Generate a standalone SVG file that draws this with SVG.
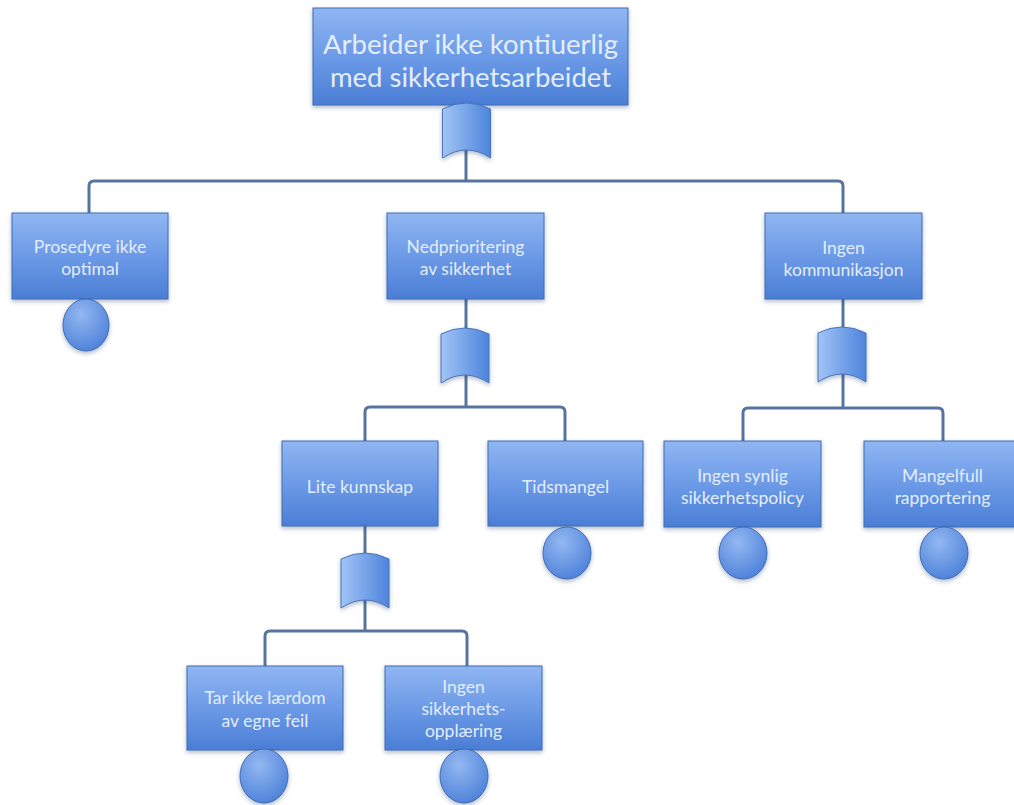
<svg xmlns="http://www.w3.org/2000/svg" width="1014" height="805" viewBox="0 0 1014 805">
  <defs>
    <linearGradient id="boxFill" x1="0" y1="0" x2="0" y2="1">
      <stop offset="0" stop-color="#90b6f2"/>
      <stop offset="0.5" stop-color="#6c9ae7"/>
      <stop offset="1" stop-color="#4a7ed5"/>
    </linearGradient>
    <linearGradient id="gateFill" x1="0" y1="0" x2="1" y2="0">
      <stop offset="0" stop-color="#a2c4f6"/>
      <stop offset="1" stop-color="#4d84dc"/>
    </linearGradient>
    <radialGradient id="eventFill" cx="0.4" cy="0.3" r="0.75">
      <stop offset="0" stop-color="#93b8f2"/>
      <stop offset="1" stop-color="#4c80d8"/>
    </radialGradient>
    <filter id="shadow" x="-10%" y="-10%" width="120%" height="130%">
      <feDropShadow dx="0" dy="2" stdDeviation="2" flood-color="#1a3560" flood-opacity="0.35"/>
    </filter>
    <path id="orGate" d="M-24,6 Q0,-6 24,6 L24,55 Q0,39 -24,55 Z"/>
  </defs>
  <style>
    .box { fill: url(#boxFill); stroke: #3e6cb4; stroke-width: 1; filter: url(#shadow); }
    .gate { fill: url(#gateFill); stroke: #4a74b8; stroke-width: 1; filter: url(#shadow); }
    .event { fill: url(#eventFill); stroke: #3e6cb4; stroke-width: 1; filter: url(#shadow); }
    .link { fill: none; stroke: #56749f; stroke-width: 3; }
    .lbl { font-family: Lato, "Open Sans", sans-serif; fill: #e3edfc; text-anchor: middle; font-size: 17.5px; }
    .big { font-size: 27.5px; }
  </style>

  <!-- connectors -->
  <g id="connectors">
    <path class="link" d="M466,105 V181"/>
    <path class="link" d="M89,213 V186 Q89,181 94,181 H838 Q843,181 843,186 V213"/>
    <path class="link" d="M466,299 V407"/>
    <path class="link" d="M365,441 V412 Q365,407 370,407 H560 Q565,407 565,412 V441"/>
    <path class="link" d="M843,299 V408"/>
    <path class="link" d="M743,441 V413 Q743,408 748,408 H938 Q943,408 943,413 V441"/>
    <path class="link" d="M365,526 V631"/>
    <path class="link" d="M265,666 V636 Q265,631 270,631 H462 Q467,631 467,636 V666"/>
  </g>

  <!-- top event -->
  <g id="top-event">
    <rect class="box" x="313" y="8" width="315" height="97"/>
    <text class="lbl big" x="470.5" y="54">Arbeider ikke kontiuerlig</text>
    <text class="lbl big" x="470.5" y="87">med sikkerhetsarbeidet</text>
  </g>
  <g id="gate-top"><use href="#orGate" class="gate" transform="translate(466.5,103)"/></g>

  <!-- first level -->
  <g id="prosedyre">
    <rect class="box" x="12" y="213" width="156" height="86"/>
    <text class="lbl" x="90" y="253">Prosedyre ikke</text>
    <text class="lbl" x="90" y="275">optimal</text>
    <ellipse class="event" cx="86" cy="325" rx="23" ry="26"/>
  </g>
  <g id="nedprioritering">
    <rect class="box" x="387" y="213" width="157" height="86"/>
    <text class="lbl" x="465.5" y="253">Nedprioritering</text>
    <text class="lbl" x="465.5" y="275">av sikkerhet</text>
  </g>
  <g id="gate-nedprioritering"><use href="#orGate" class="gate" transform="translate(465,328)"/></g>
  <g id="kommunikasjon">
    <rect class="box" x="765" y="213" width="157" height="86"/>
    <text class="lbl" x="843.5" y="254">Ingen</text>
    <text class="lbl" x="843.5" y="276">kommunikasjon</text>
  </g>
  <g id="gate-kommunikasjon"><use href="#orGate" class="gate" transform="translate(842,327)"/></g>

  <!-- second level -->
  <g id="lite-kunnskap">
    <rect class="box" x="282" y="441" width="156" height="85"/>
    <text class="lbl" x="360" y="493">Lite kunnskap</text>
  </g>
  <g id="gate-lite-kunnskap"><use href="#orGate" class="gate" transform="translate(365,553)"/></g>
  <g id="tidsmangel">
    <rect class="box" x="488" y="441" width="155" height="85"/>
    <text class="lbl" x="565.5" y="493">Tidsmangel</text>
    <ellipse class="event" cx="567" cy="553" rx="24" ry="26"/>
  </g>
  <g id="sikkerhetspolicy">
    <rect class="box" x="664" y="441" width="157" height="86"/>
    <text class="lbl" x="742.5" y="482">Ingen synlig</text>
    <text class="lbl" x="742.5" y="504">sikkerhetspolicy</text>
    <ellipse class="event" cx="743" cy="553" rx="24" ry="26"/>
  </g>
  <g id="rapportering">
    <rect class="box" x="864" y="441" width="157" height="86"/>
    <text class="lbl" x="942.5" y="482">Mangelfull</text>
    <text class="lbl" x="942.5" y="504">rapportering</text>
    <ellipse class="event" cx="944" cy="553" rx="24" ry="26"/>
  </g>

  <!-- third level -->
  <g id="laerdom">
    <rect class="box" x="187" y="666" width="156" height="84"/>
    <text class="lbl" x="265" y="704">Tar ikke lærdom</text>
    <text class="lbl" x="265" y="727">av egne feil</text>
    <ellipse class="event" cx="264" cy="776" rx="24" ry="27"/>
  </g>
  <g id="opplaering">
    <rect class="box" x="385" y="666" width="157" height="84"/>
    <text class="lbl" x="463.5" y="693">Ingen</text>
    <text class="lbl" x="463.5" y="715">sikkerhets-</text>
    <text class="lbl" x="463.5" y="737">opplæring</text>
    <ellipse class="event" cx="464" cy="776" rx="24" ry="27"/>
  </g>
</svg>
